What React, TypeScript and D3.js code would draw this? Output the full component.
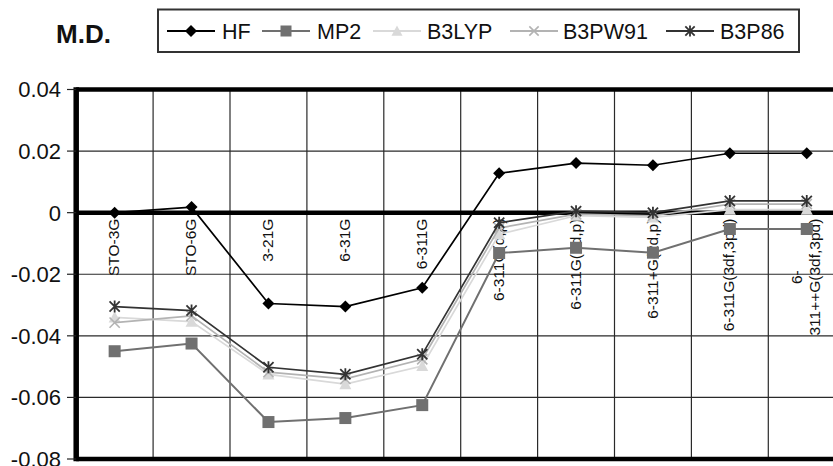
import React, { useEffect, useRef } from "react";
import * as d3 from "d3";

// Basis sets along the category axis (wrapped lines per label)
const categories: string[] = [
  "STO-3G",
  "STO-6G",
  "3-21G",
  "6-31G",
  "6-311G",
  "6-311G(d,p)",
  "6-311G(2d,p)",
  "6-311+G(2d,p)",
  "6-311G(3df,3pd)",
  "6-311++G(3df,3pd)",
];
const categoryLines: string[][] = [
  ["STO-3G"],
  ["STO-6G"],
  ["3-21G"],
  ["6-31G"],
  ["6-311G"],
  ["6-311G(d,p)"],
  ["6-311G(2d,p)"],
  ["6-311+G(2d,p)"],
  ["6-311G(3df,3pd)"],
  ["6-", "311++G(3df,3pd)"],
];

// Mean deviation per method
const hf: number[] = [0, 0.0018, -0.0295, -0.0305, -0.0244, 0.0128, 0.0161, 0.0154, 0.0193, 0.0193];
const mp2: number[] = [-0.045, -0.0425, -0.068, -0.0667, -0.0625, -0.0131, -0.0114, -0.013, -0.0053, -0.0053];
const b3lyp: number[] = [-0.034, -0.0354, -0.0525, -0.0557, -0.0498, -0.007, -0.001, -0.0015, 0.001, 0.001];
const b3pw91: number[] = [-0.0357, -0.0335, -0.0518, -0.054, -0.0476, -0.005, -0.0005, -0.001, 0.0028, 0.0028];
const b3p86: number[] = [-0.0305, -0.0318, -0.0502, -0.0525, -0.046, -0.0033, 0.0005, 0, 0.0038, 0.0038];

const yTicks: number[] = [0.04, 0.02, 0, -0.02, -0.04, -0.06, -0.08];
const yTickLabels: string[] = ["0.04", "0.02", "0", "-0.02", "-0.04", "-0.06", "-0.08"];

type Marker = "diamond" | "square" | "triangle" | "x" | "asterisk";
interface Series {
  name: string;
  values: number[];
  color: string;
  marker: Marker;
}

const series: Series[] = [
  { name: "HF", values: hf, color: "#000000", marker: "diamond" },
  { name: "MP2", values: mp2, color: "#707070", marker: "square" },
  { name: "B3LYP", values: b3lyp, color: "#d9d9d9", marker: "triangle" },
  { name: "B3PW91", values: b3pw91, color: "#b3b3b3", marker: "x" },
  { name: "B3P86", values: b3p86, color: "#333333", marker: "asterisk" },
];

const FONT = "'Liberation Sans', Arial, Helvetica, sans-serif";

function drawMarker(
  g: d3.Selection<SVGGElement, unknown, null, undefined>,
  type: Marker,
  cx: number,
  cy: number,
  color: string,
  s: number
) {
  if (type === "diamond") {
    g.append("path")
      .attr("d", `M${cx},${cy - s}L${cx + s},${cy}L${cx},${cy + s}L${cx - s},${cy}Z`)
      .attr("fill", color);
  } else if (type === "square") {
    g.append("rect")
      .attr("x", cx - s)
      .attr("y", cy - s)
      .attr("width", 2 * s)
      .attr("height", 2 * s)
      .attr("fill", color);
  } else if (type === "triangle") {
    g.append("path")
      .attr("d", `M${cx},${cy - s}L${cx + s},${cy + s * 0.85}L${cx - s},${cy + s * 0.85}Z`)
      .attr("fill", color);
  } else if (type === "x") {
    const r = s * 0.85;
    g.append("path")
      .attr("d", `M${cx - r},${cy - r}L${cx + r},${cy + r}M${cx - r},${cy + r}L${cx + r},${cy - r}`)
      .attr("stroke", color)
      .attr("stroke-width", 1.6)
      .attr("fill", "none");
  } else {
    const r = s * 0.85;
    g.append("path")
      .attr(
        "d",
        `M${cx - r},${cy - r}L${cx + r},${cy + r}M${cx - r},${cy + r}L${cx + r},${cy - r}M${cx},${cy - s}L${cx},${cy + s}`
      )
      .attr("stroke", color)
      .attr("stroke-width", 1.8)
      .attr("fill", "none");
  }
}

const App: React.FC = () => {
  const ref = useRef<SVGSVGElement | null>(null);

  useEffect(() => {
    const svg = d3.select(ref.current);
    svg.selectAll("*").remove();

    const plotLeft = 76.2;
    const band = 76.9;
    const plotRight = plotLeft + band * categories.length;
    const plotTop = 89.5;
    const plotBottom = 459;

    const x = d3
      .scaleBand<string>()
      .domain(categories)
      .range([plotLeft, plotRight])
      .paddingInner(0)
      .paddingOuter(0);
    const y = d3.scaleLinear().domain([-0.08, 0.04]).range([plotBottom, plotTop]);
    const cx = (c: string) => (x(c) as number) + x.bandwidth() / 2;

    const root = svg.append("g");

    // Title
    root
      .append("text")
      .attr("x", 56)
      .attr("y", 43)
      .attr("font-family", FONT)
      .attr("font-weight", "bold")
      .attr("font-size", 26)
      .attr("fill", "#111")
      .text("M.D.");

    // Legend
    const lg = root.append("g");
    lg.append("rect")
      .attr("x", 158)
      .attr("y", 9.5)
      .attr("width", 641)
      .attr("height", 42.5)
      .attr("fill", "#fff")
      .attr("stroke", "#333")
      .attr("stroke-width", 2);
    const legendLineX = [167, 262, 373, 510, 666];
    const legendTextX = [222, 317, 427, 563, 720];
    const ly = 31;
    series.forEach((s, i) => {
      lg.append("line")
        .attr("x1", legendLineX[i])
        .attr("x2", legendLineX[i] + 48)
        .attr("y1", ly)
        .attr("y2", ly)
        .attr("stroke", s.color)
        .attr("stroke-width", 2);
      drawMarker(lg, s.marker, legendLineX[i] + 24, ly, s.color, s.marker === "diamond" ? 6 : 5.5);
      lg.append("text")
        .attr("x", legendTextX[i])
        .attr("y", ly + 7.5)
        .attr("font-family", FONT)
        .attr("font-size", 21.5)
        .attr("fill", "#111")
        .text(s.name);
    });

    // Gridlines
    const grid = root.append("g");
    yTicks.forEach((t) => {
      if (t === 0.04 || t === -0.08 || t === 0) return;
      grid
        .append("line")
        .attr("x1", plotLeft)
        .attr("x2", plotRight)
        .attr("y1", y(t))
        .attr("y2", y(t))
        .attr("stroke", "#2a2a2a")
        .attr("stroke-width", 1.2);
    });
    categories.forEach((c, i) => {
      if (i === 0) return;
      const gx = x(c) as number;
      grid
        .append("line")
        .attr("x1", gx)
        .attr("x2", gx)
        .attr("y1", plotTop)
        .attr("y2", plotBottom)
        .attr("stroke", "#2a2a2a")
        .attr("stroke-width", 1.2);
    });

    // Frame lines (top, bottom) and thick zero line
    [0.04, -0.08, 0].forEach((t) => {
      grid
        .append("line")
        .attr("x1", plotLeft)
        .attr("x2", plotRight)
        .attr("y1", y(t))
        .attr("y2", y(t))
        .attr("stroke", "#000")
        .attr("stroke-width", 4.5);
    });

    // Value axis
    grid
      .append("line")
      .attr("x1", plotLeft)
      .attr("x2", plotLeft)
      .attr("y1", plotTop - 2.25)
      .attr("y2", plotBottom + 2.25)
      .attr("stroke", "#000")
      .attr("stroke-width", 5.5);
    yTicks.forEach((t, i) => {
      grid
        .append("line")
        .attr("x1", 67)
        .attr("x2", plotLeft)
        .attr("y1", y(t))
        .attr("y2", y(t))
        .attr("stroke", "#222")
        .attr("stroke-width", 1.2);
      grid
        .append("text")
        .attr("x", 61)
        .attr("y", y(t))
        .attr("dy", "0.36em")
        .attr("text-anchor", "end")
        .attr("font-family", FONT)
        .attr("font-size", 22)
        .attr("fill", "#111")
        .text(yTickLabels[i]);
    });

    // Category labels, rotated, hanging just below the zero line
    const labelTop = y(0) + 6;
    const labels = root.append("g");
    categories.forEach((c, i) => {
      const lines = categoryLines[i];
      const center = cx(c);
      const lineGap = 18;
      const texts: SVGTextElement[] = [];
      lines.forEach((ln, j) => {
        const off = (j - (lines.length - 1) / 2) * lineGap;
        const t = labels
          .append("text")
          .attr("font-family", FONT)
          .attr("font-size", 15.5)
          .attr("fill", "#111")
          .attr("text-anchor", "middle")
          .attr("dy", "0.36em")
          .text(ln);
        (t.node() as SVGTextElement).dataset.off = String(off);
        texts.push(t.node() as SVGTextElement);
      });
      const lens = texts.map((t) => t.getComputedTextLength());
      const longest = Math.max(...lens);
      const mid = labelTop + longest / 2;
      texts.forEach((t) => {
        const off = Number(t.dataset.off);
        d3.select(t).attr("transform", `translate(${center + off - 1},${mid}) rotate(-90)`);
      });
    });

    // Series lines and markers
    series.forEach((s) => {
      const sg = root.append("g");
      const line = d3
        .line<number>()
        .x((_, i) => cx(categories[i]))
        .y((v) => y(v));
      sg.append("path")
        .attr("d", line(s.values) as string)
        .attr("fill", "none")
        .attr("stroke", s.color)
        .attr("stroke-width", s.marker === "square" ? 2 : 1.7);
      s.values.forEach((v, i) => {
        drawMarker(sg, s.marker, cx(categories[i]), y(v), s.color, s.marker === "diamond" ? 6 : 6);
      });
    });
  }, []);

  return (
    <svg
      ref={ref}
      width={833}
      height={466}
      style={{ position: "absolute", left: 0, top: 0, background: "#fff" }}
    />
  );
};

export default App;
